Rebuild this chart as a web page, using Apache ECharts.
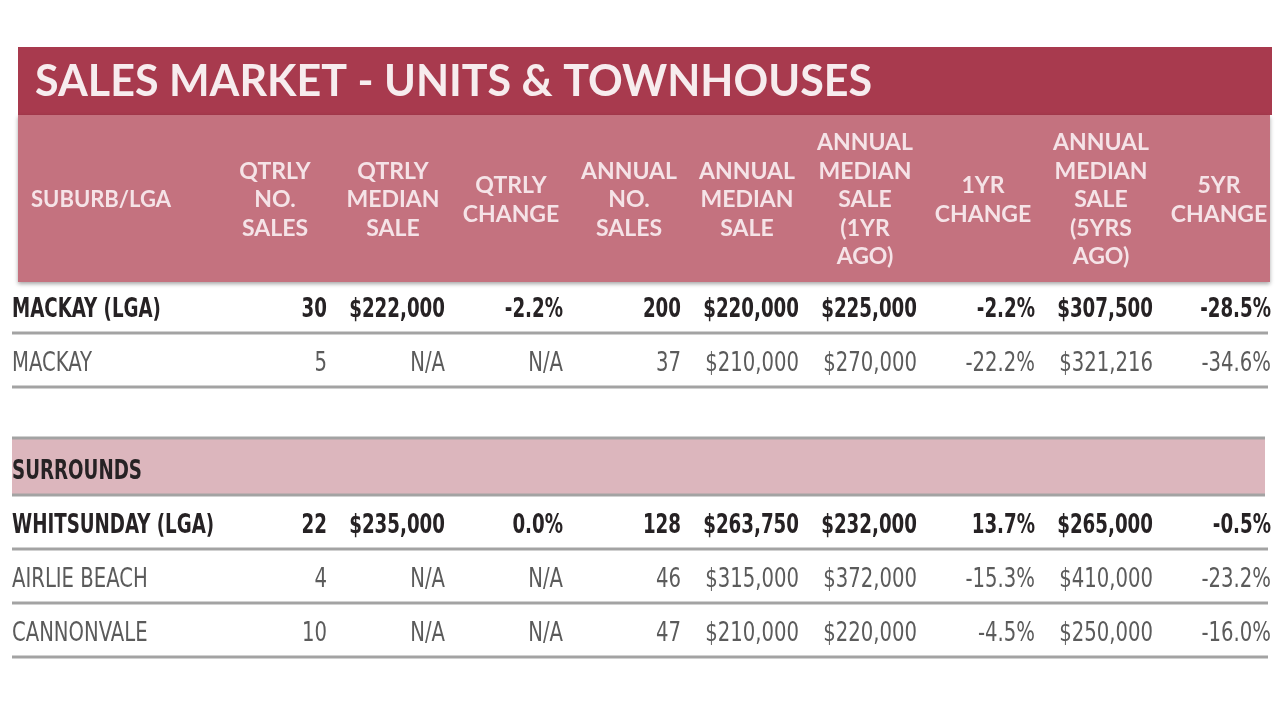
<!DOCTYPE html>
<html>
<head>
<meta charset="utf-8">
<script src="https://cdn.jsdelivr.net/npm/echarts@6/dist/echarts.min.js"></script>
<style>
html,body{margin:0;padding:0;background:#fff;}
#chart{width:1280px;height:718px;}
</style>
</head>
<body>
<div id="chart"></div>
<script>
// ---- data ----
const titleText = 'SALES MARKET - UNITS & TOWNHOUSES';
const firstHeader = 'SUBURB/LGA';
const columns = [
  'QTRLY\nNO.\nSALES',
  'QTRLY\nMEDIAN\nSALE',
  'QTRLY\nCHANGE',
  'ANNUAL\nNO.\nSALES',
  'ANNUAL\nMEDIAN\nSALE',
  'ANNUAL\nMEDIAN\nSALE\n(1YR\nAGO)',
  '1YR\nCHANGE',
  'ANNUAL\nMEDIAN\nSALE\n(5YRS\nAGO)',
  '5YR\nCHANGE'
];
const rows = ['MACKAY (LGA)', 'MACKAY', '', 'SURROUNDS', 'WHITSUNDAY (LGA)', 'AIRLIE BEACH', 'CANNONVALE'];
const boldRows = ['MACKAY (LGA)', 'SURROUNDS', 'WHITSUNDAY (LGA)'];
const bandRows = ['SURROUNDS'];
const ruledRows = ['MACKAY (LGA)', 'MACKAY', 'WHITSUNDAY (LGA)', 'AIRLIE BEACH', 'CANNONVALE'];

const qtrlyNoSales          = [30, 5, null, null, 22, 4, 10];
const qtrlyMedianSale       = [222000, 'N/A', null, null, 235000, 'N/A', 'N/A'];
const qtrlyChange           = [-2.2, 'N/A', null, null, 0.0, 'N/A', 'N/A'];
const annualNoSales         = [200, 37, null, null, 128, 46, 47];
const annualMedianSale      = [220000, 210000, null, null, 263750, 315000, 210000];
const annualMedianSale1Yr   = [225000, 270000, null, null, 232000, 372000, 220000];
const oneYrChange           = [-2.2, -22.2, null, null, 13.7, -15.3, -4.5];
const annualMedianSale5Yrs  = [307500, 321216, null, null, 265000, 410000, 250000];
const fiveYrChange          = [-28.5, -34.6, null, null, -0.5, -23.2, -16.0];

const columnValues = [qtrlyNoSales, qtrlyMedianSale, qtrlyChange, annualNoSales, annualMedianSale,
  annualMedianSale1Yr, oneYrChange, annualMedianSale5Yrs, fiveYrChange];
const columnKinds = ['count', 'money', 'pct', 'count', 'money', 'money', 'pct', 'money', 'pct'];

// ---- formatting ----
function fmt(v, kind) {
  if (typeof v === 'string') return v;
  if (kind === 'money') return '$' + v.toLocaleString('en-US');
  if (kind === 'pct') return v.toFixed(1) + '%';
  return String(v);
}

// column index -1 = row label column
const cellData = [];
const cellText = [];
const cellBold = [];
rows.forEach((name, r) => {
  if (!name) return;
  cellData.push([-1, r]);
  cellText.push(name);
  cellBold.push(boldRows.indexOf(name) >= 0);
});
columnValues.forEach((arr, c) => {
  arr.forEach((v, r) => {
    if (v === null || v === undefined) return;
    cellData.push([c, r]);
    cellText.push(fmt(v, columnKinds[c]));
    cellBold.push(boldRows.indexOf(rows[r]) >= 0);
  });
});

const ruleData = [];
rows.forEach((name, r) => {
  if (ruledRows.indexOf(name) >= 0) ruleData.push([0, r, 0]);
  if (bandRows.indexOf(name) >= 0) ruleData.push([0, r, 1]);
});

const NUM_FONT = '"DejaVu Sans Condensed", "Liberation Sans Narrow", sans-serif';
const HEAD_FONT = 'Lato, "Open Sans", sans-serif';
const DARK = '#262224';
const GREY = '#5b5b5b';
const RULE = '#a3a3a3';
const LABEL_MARGIN = 204;

const chart = echarts.init(document.getElementById('chart'));
chart.setOption({
  backgroundColor: '#ffffff',
  animation: false,
  title: {
    text: titleText,
    left: 30, top: 56,
    textStyle: { color: '#f7ecee', fontFamily: HEAD_FONT, fontWeight: 'bold', fontSize: 43 }
  },
  graphic: [
    { type: 'rect', z: -1, shape: { x: 18, y: 47, width: 1254, height: 68 }, style: { fill: '#a83a4e' } },
    { type: 'rect', z: -1, shape: { x: 18, y: 115, width: 1252, height: 167 },
      style: { fill: '#c4727f', shadowBlur: 4, shadowOffsetY: 2, shadowColor: 'rgba(0,0,0,0.35)' } },
    { type: 'text', z: 5, style: { x: 31, y: 200, text: firstHeader, verticalAlign: 'middle',
      fill: '#f5e3e7', font: 'bold 22px ' + HEAD_FONT } }
  ],
  grid: { left: 216, right: 2, top: 280, height: 378 },
  xAxis: {
    type: 'category', position: 'top', data: columns, z: 5,
    axisLine: { show: false }, axisTick: { show: false }, splitLine: { show: false },
    axisLabel: {
      interval: 0, margin: 80, verticalAlign: 'middle', align: 'center',
      color: '#f5e3e7', fontFamily: HEAD_FONT, fontWeight: 'bold', fontSize: 23, lineHeight: 28.5
    }
  },
  yAxis: {
    type: 'category', inverse: true, data: rows,
    axisLine: { show: false }, axisTick: { show: false }, splitLine: { show: false },
    axisLabel: { show: false }
  },
  series: [
    {
      type: 'custom', z: 1, data: ruleData, silent: true,
      renderItem: (params, api) => {
        const cs = params.coordSys;
        const pt = api.coord([0, api.value(1)]);
        const sz = api.size([1, 1]);
        const x0 = cs.x - LABEL_MARGIN;
        const x1 = cs.x + cs.width - 10;
        if (api.value(2) === 1) {
          const top = pt[1] - sz[1] / 2 - 4;
          const bot = pt[1] + sz[1] / 2 - 1;
          return { type: 'group', children: [
            { type: 'rect', shape: { x: x0, y: top, width: x1 - x0 - 3, height: bot - top }, style: { fill: '#dcb6bd' } },
            { type: 'line', shape: { x1: x0, y1: top, x2: x1 - 3, y2: top }, style: { stroke: RULE, lineWidth: 3 } },
            { type: 'line', shape: { x1: x0, y1: bot, x2: x1 - 3, y2: bot }, style: { stroke: RULE, lineWidth: 3 } }
          ]};
        }
        const y = pt[1] + sz[1] / 2 - 1;
        return { type: 'line', shape: { x1: x0, y1: y, x2: x1, y2: y }, style: { stroke: RULE, lineWidth: 3 } };
      }
    },
    {
      type: 'custom', z: 3, data: cellData, silent: true,
      renderItem: (params, api) => {
        const cs = params.coordSys;
        const col = api.value(0);
        const bold = cellBold[params.dataIndex];
        let x, align;
        const sz = api.size([1, 1]);
        const pt = api.coord([Math.max(col, 0), api.value(1)]);
        if (col < 0) { x = cs.x - LABEL_MARGIN; align = 'left'; }
        else { x = pt[0] + sz[0] / 2 - 7; align = 'right'; }
        return {
          type: 'text',
          x: x, y: pt[1] + 3,
          scaleX: bold ? 0.78 : 0.84,
          style: {
            x: 0, y: 0,
            text: cellText[params.dataIndex],
            align: align, verticalAlign: 'middle',
            font: (bold ? 'bold ' : '') + '26px ' + NUM_FONT,
            fill: bold ? DARK : GREY
          }
        };
      }
    }
  ]
});
</script>
</body>
</html>
